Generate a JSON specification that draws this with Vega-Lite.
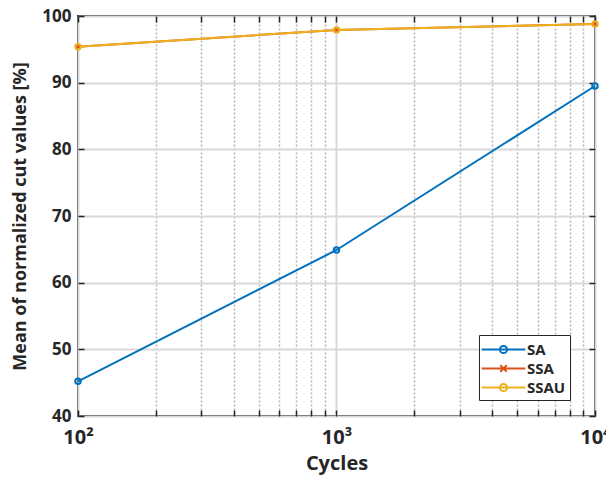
{
  "$schema": "https://vega.github.io/schema/vega-lite/v6.json",
  "width": 517,
  "height": 400,
  "autosize": "none",
  "padding": {"left": 78, "top": 16, "right": 11, "bottom": 61},
  "background": "white",
  "config": {
    "font": "Open Sans",
    "view": {"stroke": "#262626", "strokeWidth": 2}
  },
  "data": {
    "values": [
      {"cycles": 100, "value": 45.2, "method": "SA"},
      {"cycles": 1000, "value": 64.9, "method": "SA"},
      {"cycles": 10000, "value": 89.5, "method": "SA"},
      {"cycles": 100, "value": 95.4, "method": "SSA"},
      {"cycles": 1000, "value": 97.9, "method": "SSA"},
      {"cycles": 10000, "value": 98.8, "method": "SSA"},
      {"cycles": 100, "value": 95.4, "method": "SSAU"},
      {"cycles": 1000, "value": 97.9, "method": "SSAU"},
      {"cycles": 10000, "value": 98.8, "method": "SSAU"}
    ]
  },
  "layer": [
    {
      "mark": {"type": "line", "strokeWidth": 2},
      "encoding": {
        "x": {
          "field": "cycles", "type": "quantitative",
          "scale": {"type": "log", "domain": [100, 10000], "nice": false},
          "axis": {
            "orient": "bottom",
            "values": [100, 200, 300, 400, 500, 600, 700, 800, 900, 1000, 2000, 3000, 4000, 5000, 6000, 7000, 8000, 9000, 10000],
            "labelExpr": "datum.value == 100 ? '10²' : datum.value == 1000 ? '10³' : datum.value == 10000 ? '10⁴' : ''",
            "grid": true,
            "gridColor": {"condition": {"test": "datum.value == 100 || datum.value == 1000 || datum.value == 10000", "value": "#d9d9d9"}, "value": "#b5b5b5"},
            "gridDash": {"condition": {"test": "datum.value == 100 || datum.value == 1000 || datum.value == 10000", "value": []}, "value": [2, 2]},
            "gridWidth": {"condition": {"test": "datum.value == 100 || datum.value == 1000 || datum.value == 10000", "value": 2}, "value": 1.5},
            "domain": false,
            "ticks": true,
            "tickSize": -6,
            "tickColor": "#262626",
            "tickWidth": 1.5,
            "labelFont": "Open Sans",
            "labelFontSize": 20,
            "labelFontWeight": "bold",
            "labelColor": "#262626",
            "labelPadding": 17,
            "labelDx": -5,
            "labelFlush": false,
            "labelOverlap": false,
            "title": "Cycles",
            "titleFont": "Open Sans",
            "titleFontSize": 20,
            "titleFontWeight": "bold",
            "titleColor": "#262626",
            "titlePadding": 6
          }
        },
        "y": {
          "field": "value", "type": "quantitative",
          "scale": {"domain": [40, 100], "nice": false},
          "axis": {
            "orient": "left",
            "values": [40, 50, 60, 70, 80, 90, 100],
            "grid": true,
            "gridColor": "#d9d9d9",
            "gridWidth": 2,
            "domain": false,
            "ticks": true,
            "tickSize": -6,
            "tickColor": "#262626",
            "tickWidth": 1.5,
            "labelFont": "Open Sans",
            "labelFontSize": 17,
            "labelFontWeight": "bold",
            "labelColor": "#262626",
            "labelPadding": 13,
            "labelFlush": false,
            "title": "Mean of normalized cut values [%]",
            "titleFont": "Open Sans",
            "titleFontSize": 18,
            "titleFontWeight": "bold",
            "titleColor": "#262626",
            "titlePadding": 12
          }
        },
        "color": {
          "field": "method", "type": "nominal",
          "scale": {"domain": ["SA", "SSA", "SSAU"], "range": ["#0072BD", "#D95319", "#EDB120"]},
          "legend": null
        }
      }
    },
    {
      "mark": {"type": "point", "filled": false, "size": 30, "strokeWidth": 2, "opacity": 1},
      "encoding": {
        "x": {"field": "cycles", "type": "quantitative", "scale": {"type": "log", "domain": [100, 10000], "nice": false}, "axis": null},
        "y": {"field": "value", "type": "quantitative", "scale": {"domain": [40, 100], "nice": false}, "axis": null},
        "color": {
          "field": "method", "type": "nominal",
          "scale": {"domain": ["SA", "SSA", "SSAU"], "range": ["#0072BD", "#D95319", "#EDB120"]},
          "legend": null
        },
        "shape": {
          "field": "method", "type": "nominal",
          "scale": {"domain": ["SA", "SSA", "SSAU"], "range": ["circle", "M-0.7,-0.7L0.7,0.7M-0.7,0.7L0.7,-0.7", "circle"]},
          "legend": null
        }
      }
    },
    {
      "mark": {"type": "point", "filled": false, "opacity": 0},
      "encoding": {
        "x": {
          "field": "cycles", "type": "quantitative",
          "scale": {"type": "log", "domain": [100, 10000], "nice": false},
          "axis": {
            "orient": "top",
            "values": [100, 200, 300, 400, 500, 600, 700, 800, 900, 1000, 2000, 3000, 4000, 5000, 6000, 7000, 8000, 9000, 10000],
            "labels": false, "grid": false, "domain": false, "title": null,
            "ticks": true, "tickSize": -6, "tickColor": "#262626", "tickWidth": 1.5
          }
        },
        "y": {
          "field": "value", "type": "quantitative",
          "scale": {"domain": [40, 100], "nice": false},
          "axis": {
            "orient": "right",
            "values": [40, 50, 60, 70, 80, 90, 100],
            "labels": false, "grid": false, "domain": false, "title": null,
            "ticks": true, "tickSize": -6, "tickColor": "#262626", "tickWidth": 1.5
          }
        },
        "color": {
          "field": "method", "type": "nominal",
          "scale": {"domain": ["SA", "SSA", "SSAU"], "range": ["#0072BD", "#D95319", "#EDB120"]},
          "legend": {
            "title": null,
            "orient": "none",
            "legendX": 401,
            "legendY": 319,
            "strokeColor": "#262626",
            "fillColor": "white",
            "padding": 4,
            "symbolSize": 361,
            "symbolOffset": 10,
            "symbolStrokeWidth": 2,
            "symbolOpacity": 1,
            "symbolFillColor": "transparent",
            "labelFont": "Open Sans",
            "labelFontSize": 15,
            "labelFontWeight": "bold",
            "labelColor": "#262626",
            "labelOffset": 13,
            "rowPadding": 0
          }
        },
        "shape": {
          "field": "method", "type": "nominal",
          "scale": {
            "domain": ["SA", "SSA", "SSAU"],
            "range": [
              "M-2.3,0L2.3,0M-0.38,0A0.38,0.38 0 1,0 0.38,0A0.38,0.38 0 1,0 -0.38,0",
              "M-2.3,0L2.3,0M-0.34,-0.34L0.34,0.34M-0.34,0.34L0.34,-0.34",
              "M-2.3,0L2.3,0M-0.38,0A0.38,0.38 0 1,0 0.38,0A0.38,0.38 0 1,0 -0.38,0"
            ]
          },
          "legend": {
            "title": null,
            "orient": "none",
            "legendX": 401,
            "legendY": 319,
            "strokeColor": "#262626",
            "fillColor": "white",
            "padding": 4,
            "symbolSize": 361,
            "symbolOffset": 10,
            "symbolStrokeWidth": 2,
            "symbolOpacity": 1,
            "symbolFillColor": "transparent",
            "labelFont": "Open Sans",
            "labelFontSize": 15,
            "labelFontWeight": "bold",
            "labelColor": "#262626",
            "labelOffset": 13,
            "rowPadding": 0
          }
        }
      }
    }
  ],
  "resolve": {"scale": {"x": "independent", "y": "independent", "color": "independent", "shape": "independent"}}
}
